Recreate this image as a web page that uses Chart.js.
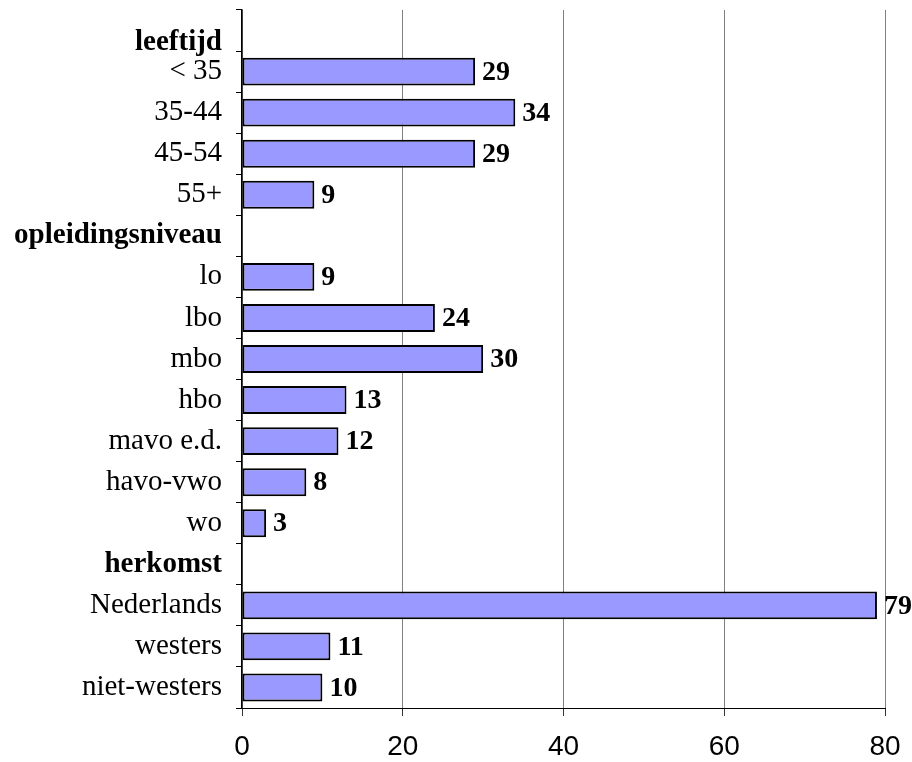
<!DOCTYPE html>
<html>
<head>
<meta charset="utf-8">
<script src="https://cdn.jsdelivr.net/npm/chart.js@4"></script>
<style>
  html, body { margin: 0; padding: 0; background: #fff; }
  #wrap { width: 912px; height: 762px; position: relative; }
</style>
</head>
<body>
<div id="wrap"><canvas id="chart"></canvas></div>
<script>
// categorieën (kopjes hebben geen waarde)
const categories = [
  'leeftijd', '< 35', '35-44', '45-54', '55+',
  'opleidingsniveau', 'lo', 'lbo', 'mbo', 'hbo', 'mavo e.d.', 'havo-vwo', 'wo',
  'herkomst', 'Nederlands', 'westers', 'niet-westers'
];
const headers = ['leeftijd', 'opleidingsniveau', 'herkomst'];
const values = [
  null, 29, 34, 29, 9,
  null, 9, 24, 30, 13, 12, 8, 3,
  null, 79, 11, 10
];
const xTicks = [0, 20, 40, 60, 80];

const serif = '"Liberation Serif", "Times New Roman", serif';
const sans = '"Liberation Sans", Arial, sans-serif';

// waarde-labels rechts naast de balk
const valueLabels = {
  id: 'valueLabels',
  afterDatasetsDraw(chart) {
    const ctx = chart.ctx;
    const meta = chart.getDatasetMeta(0);
    ctx.save();
    ctx.font = 'bold 28px ' + serif;
    ctx.fillStyle = '#000';
    ctx.textAlign = 'left';
    ctx.textBaseline = 'middle';
    meta.data.forEach((bar, i) => {
      const v = values[i];
      if (v == null) return;
      ctx.fillText(String(v), bar.x + 7, bar.y + 1);
    });
    ctx.restore();
  }
};

new Chart(document.getElementById('chart'), {
  type: 'bar',
  data: {
    labels: categories.map((c) => c === 'leeftijd' ? ['', c] : c),
    datasets: [{
      data: values,
      backgroundColor: '#9999ff',
      borderColor: '#000',
      borderWidth: 2,
      borderSkipped: false,
      barPercentage: 0.68,
      categoryPercentage: 1,
    }],
  },
  options: {
    indexAxis: 'y',
    responsive: true,
    maintainAspectRatio: false,
    animation: false,
    devicePixelRatio: 1,
    layout: { padding: { top: 10, right: 27, left: 0, bottom: 0 } },
    plugins: { legend: { display: false }, tooltip: { enabled: false } },
    scales: {
      x: {
        min: 0,
        max: 80,
        afterBuildTicks: (s) => { s.ticks = xTicks.map((v) => ({ value: v })); },
        afterFit: (s) => { s.height = 54; s.paddingLeft = 0; s.paddingRight = 0; },
        grid: { color: '#808080', lineWidth: 1, tickLength: 8, tickColor: '#333', drawOnChartArea: true },
        border: { color: '#000', width: 1 },
        ticks: { font: { family: sans, size: 28 }, color: '#000', padding: 14, maxRotation: 0 },
      },
      y: {
        afterFit: (s) => { s.width = 242; s.paddingTop = 0; s.paddingBottom = 0; },
        grid: { drawOnChartArea: false, tickLength: 6, tickColor: '#000', offset: true },
        border: { color: '#000', width: 1.5 },
        ticks: {
          color: '#000',
          padding: 14,
          autoSkip: false,
          font: (ctx) => {
            const lbl = categories[ctx.index];
            const isHead = headers.includes(lbl);
            return {
              family: serif,
              size: 29,
              weight: isHead ? 'bold' : 'normal',
              lineHeight: lbl === 'leeftijd' ? 0.85 : 1.2,
            };
          },
        },
      },
    },
  },
  plugins: [valueLabels],
});
</script>
</body>
</html>
